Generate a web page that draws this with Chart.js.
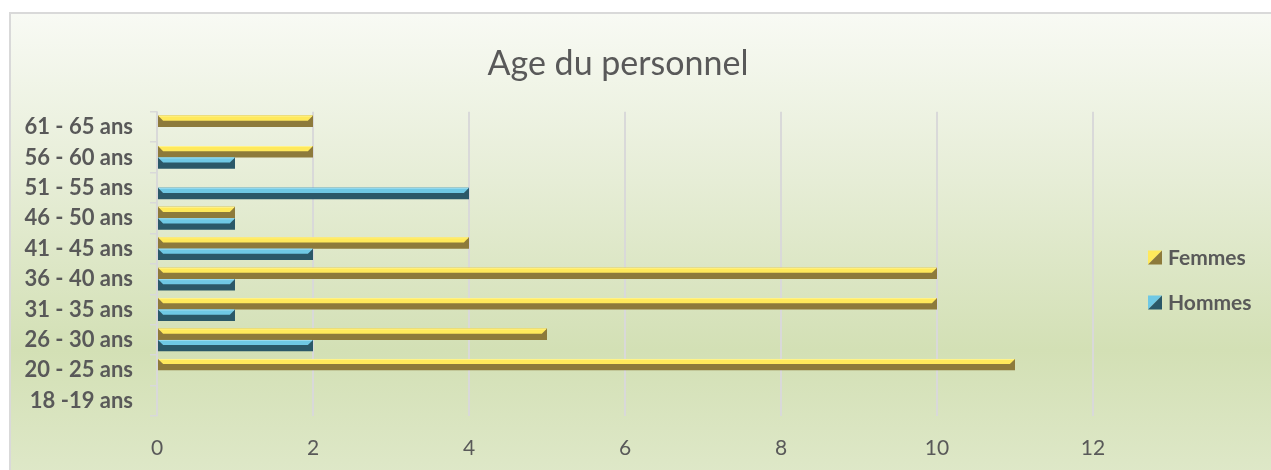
<!DOCTYPE html>
<html>
<head>
<meta charset="utf-8">
<title>Age du personnel</title>
<script src="https://cdn.jsdelivr.net/npm/chart.js@4.4.1/dist/chart.umd.min.js"></script>
<style>
  html, body { margin: 0; padding: 0; background: #fff; overflow: hidden; }
  .frame {
    position: absolute; left: 9px; top: 12px; width: 1300px; height: 480px;
    border: 2px solid #D9D9D9;
    background: linear-gradient(to bottom, #F8FAF4 0%, #E6EDD6 35%, #D3E0B5 70%, #E0E9CB 100%);
  }
  #chart { position: absolute; left: 0; top: 0; }
</style>
</head>
<body>
<div class="frame"></div>
<canvas id="chart" width="1271" height="470"></canvas>
<script>
// data, bottom category first
const categories = ['18 -19 ans', '20 - 25 ans', '26 - 30 ans', '31 - 35 ans', '36 - 40 ans',
                    '41 - 45 ans', '46 - 50 ans', '51 - 55 ans', '56 - 60 ans', '61 - 65 ans'];
const femmes = [0, 11, 5, 10, 10, 4, 1, 0, 2, 2];
const hommes = [0, 0, 2, 1, 1, 2, 1, 4, 1, 0];
const xMax = 12;
const xStep = 2;

const TEXT = '#595959';
const GRID = '#D9D9D9';

// light / dark faces of the bevelled bars
const shades = {
  Femmes: { light: '#FFE95B', hi: '#FFF38C', dark: '#8D7A3B' },
  Hommes: { light: '#6FC8E4', hi: '#9ADCF0', dark: '#2B5868' }
};

const bevelPlugin = {
  id: 'bevel',
  afterDatasetsDraw(chart) {
    const ctx = chart.ctx;
    chart.data.datasets.forEach((ds, i) => {
      const meta = chart.getDatasetMeta(i);
      const c = shades[ds.label];
      meta.data.forEach(el => {
        const p = el.getProps(['x', 'y', 'base', 'height'], true);
        const left = Math.min(p.x, p.base);
        const right = Math.max(p.x, p.base);
        if (right - left < 1) return;
        const top = p.y - p.height / 2;
        const mid = top + p.height * 0.45;
        const b = Math.min(p.height * 0.45, (right - left) / 2);
        ctx.save();
        ctx.fillStyle = c.light;
        ctx.beginPath();
        ctx.moveTo(left, top);
        ctx.lineTo(right, top);
        ctx.lineTo(right - b, mid);
        ctx.lineTo(left + b, mid);
        ctx.closePath();
        ctx.fill();
        ctx.fillStyle = c.hi;
        ctx.fillRect(left + 1, top, right - left - 2, 1);
        ctx.restore();
      });
    });
  }
};

const legendPlugin = {
  id: 'sideLegend',
  afterDraw(chart) {
    const ctx = chart.ctx;
    const area = chart.chartArea;
    const x = area.right + 55;
    const centre = (area.top + area.bottom) / 2 + 16;
    const n = chart.data.datasets.length;
    ctx.save();
    ctx.font = 'bold 21px Lato';
    ctx.textBaseline = 'middle';
    ctx.textAlign = 'left';
    chart.data.datasets.forEach((ds, i) => {
      const c = shades[ds.label];
      const y = centre + (i - (n - 1) / 2) * 45;
      const s = 14;
      const bx = x, by = y - s / 2;
      ctx.fillStyle = c.light;
      ctx.beginPath();
      ctx.moveTo(bx, by); ctx.lineTo(bx + s, by); ctx.lineTo(bx, by + s);
      ctx.closePath(); ctx.fill();
      ctx.fillStyle = c.dark;
      ctx.beginPath();
      ctx.moveTo(bx + s, by); ctx.lineTo(bx + s, by + s); ctx.lineTo(bx, by + s);
      ctx.closePath(); ctx.fill();
      ctx.fillStyle = TEXT;
      ctx.fillText(ds.label, bx + s + 6, y + 1);
    });
    ctx.restore();
  }
};

new Chart(document.getElementById('chart'), {
  type: 'bar',
  data: {
    labels: categories,
    datasets: [
      { label: 'Femmes', data: femmes, backgroundColor: shades.Femmes.dark },
      { label: 'Hommes', data: hommes, backgroundColor: shades.Hommes.dark }
    ]
  },
  options: {
    indexAxis: 'y',
    responsive: false,
    animation: false,
    categoryPercentage: 0.75,
    barPercentage: 1,
    layout: { padding: { left: 0, right: 35, top: 0, bottom: 9 } },
    plugins: {
      legend: { display: false },
      tooltip: { enabled: false },
      title: {
        display: true,
        text: 'Age du personnel',
        color: TEXT,
        font: { family: 'Lato', size: 34, weight: 'normal', lineHeight: 1.2 },
        padding: { top: 44, bottom: 27 }
      }
    },
    scales: {
      x: {
        min: 0,
        max: xMax,
        afterFit(scale) { scale.height = 45; },
        ticks: {
          stepSize: xStep,
          color: TEXT,
          padding: 20,
          font: { family: 'Lato', size: 21, lineHeight: 1.2 }
        },
        grid: { color: GRID, lineWidth: 2, drawTicks: false },
        border: { display: false }
      },
      y: {
        reverse: true,
        afterFit(scale) { scale.width = 157; },
        ticks: {
          color: TEXT,
          padding: 17,
          font: { family: 'Lato', size: 22, weight: 'bold', lineHeight: 1.2 }
        },
        grid: { color: GRID, lineWidth: 1.5, drawOnChartArea: false, tickLength: 7 },
        border: { color: GRID, width: 1.5 }
      },
      // empty right-hand strip that leaves room for the legend
      legendSpace: {
        type: 'linear',
        axis: 'y',
        position: 'right',
        afterFit(scale) { scale.width = 143; },
        ticks: { display: false },
        grid: { display: false },
        border: { display: false }
      }
    }
  },
  plugins: [bevelPlugin, legendPlugin]
});
</script>
</body>
</html>
